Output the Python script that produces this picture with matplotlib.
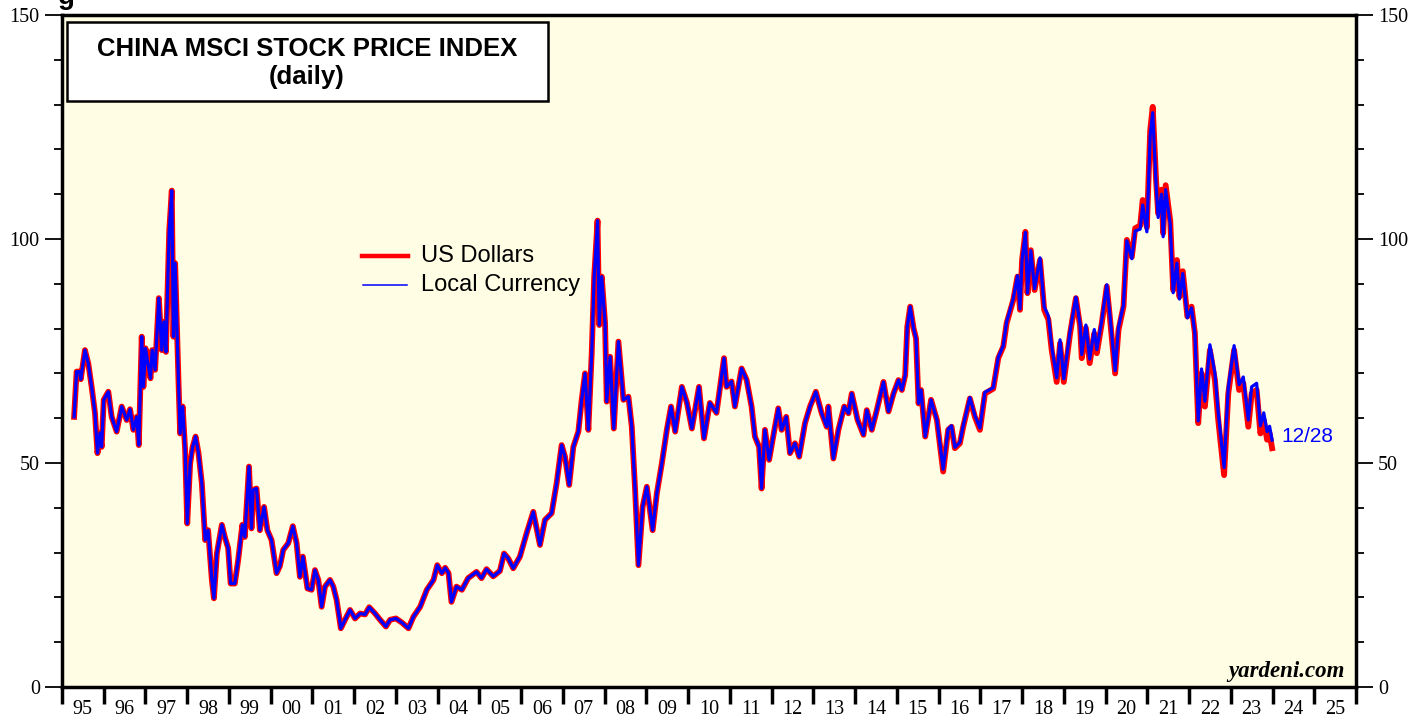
import matplotlib
matplotlib.use("Agg")
import matplotlib.pyplot as plt
from matplotlib.ticker import MultipleLocator, FixedLocator, NullFormatter
from matplotlib.patches import Rectangle
from matplotlib.lines import Line2D

# ---------------- data ----------------
dates = [
    1995.29, 1995.35, 1995.42, 1995.45, 1995.55, 1995.63, 1995.71, 1995.79, 1995.85, 1995.91,
    1995.95, 1996.00, 1996.11, 1996.19, 1996.31, 1996.43, 1996.55, 1996.63, 1996.71, 1996.79,
    1996.84, 1996.91, 1996.95, 1997.00, 1997.07, 1997.12, 1997.16, 1997.23, 1997.32, 1997.39,
    1997.44, 1997.49, 1997.52, 1997.57, 1997.63, 1997.67, 1997.71, 1997.75, 1997.79, 1997.83,
    1997.89, 1997.95, 1998.00, 1998.07, 1998.13, 1998.20, 1998.27, 1998.35, 1998.43, 1998.50,
    1998.59, 1998.64, 1998.71, 1998.83, 1998.90, 1998.98, 1999.04, 1999.14, 1999.22, 1999.32,
    1999.38, 1999.48, 1999.54, 1999.58, 1999.66, 1999.74, 1999.84, 1999.92, 2000.02, 2000.14,
    2000.22, 2000.30, 2000.42, 2000.53, 2000.62, 2000.70, 2000.77, 2000.88, 2000.98, 2001.06,
    2001.14, 2001.22, 2001.30, 2001.42, 2001.50, 2001.58, 2001.68, 2001.78, 2001.90, 2002.02,
    2002.14, 2002.26, 2002.36, 2002.50, 2002.62, 2002.76, 2002.86, 2003.00, 2003.14, 2003.30,
    2003.42, 2003.58, 2003.74, 2003.90, 2003.99, 2004.10, 2004.18, 2004.26, 2004.33, 2004.45,
    2004.58, 2004.73, 2004.93, 2005.05, 2005.17, 2005.33, 2005.49, 2005.59, 2005.69, 2005.81,
    2005.97, 2006.13, 2006.29, 2006.45, 2006.57, 2006.73, 2006.85, 2006.97, 2007.05, 2007.15,
    2007.25, 2007.37, 2007.45, 2007.53, 2007.61, 2007.69, 2007.75, 2007.83, 2007.87, 2007.93,
    2008.01, 2008.05, 2008.13, 2008.22, 2008.33, 2008.45, 2008.57, 2008.65, 2008.73, 2008.81,
    2008.91, 2009.01, 2009.15, 2009.25, 2009.37, 2009.49, 2009.59, 2009.69, 2009.85, 2009.97,
    2010.09, 2010.26, 2010.38, 2010.52, 2010.68, 2010.80, 2010.86, 2010.92, 2011.04, 2011.12,
    2011.28, 2011.40, 2011.52, 2011.60, 2011.70, 2011.76, 2011.84, 2011.94, 2012.04, 2012.16,
    2012.24, 2012.35, 2012.44, 2012.56, 2012.66, 2012.80, 2012.92, 2013.06, 2013.20, 2013.32,
    2013.36, 2013.48, 2013.60, 2013.74, 2013.84, 2013.92, 2014.06, 2014.20, 2014.28, 2014.40,
    2014.52, 2014.68, 2014.80, 2014.92, 2015.04, 2015.12, 2015.20, 2015.25, 2015.32, 2015.40,
    2015.46, 2015.52, 2015.58, 2015.68, 2015.82, 2015.96, 2016.11, 2016.23, 2016.31, 2016.39,
    2016.51, 2016.59, 2016.75, 2016.87, 2016.99, 2017.11, 2017.31, 2017.43, 2017.55, 2017.63,
    2017.79, 2017.89, 2017.95, 2018.00, 2018.08, 2018.13, 2018.21, 2018.30, 2018.43, 2018.53,
    2018.63, 2018.71, 2018.83, 2018.91, 2019.00, 2019.15, 2019.29, 2019.39, 2019.43, 2019.53,
    2019.62, 2019.73, 2019.79, 2019.91, 2020.03, 2020.11, 2020.23, 2020.31, 2020.43, 2020.51,
    2020.63, 2020.71, 2020.83, 2020.89, 2020.99, 2021.07, 2021.13, 2021.21, 2021.26, 2021.34,
    2021.38, 2021.44, 2021.55, 2021.62, 2021.71, 2021.77, 2021.85, 2021.96, 2022.06, 2022.14,
    2022.22, 2022.30, 2022.38, 2022.50, 2022.62, 2022.70, 2022.84, 2022.94, 2023.08, 2023.20,
    2023.30, 2023.42, 2023.50, 2023.62, 2023.71, 2023.79, 2023.87, 2023.93, 2023.99,
]

usd = [
    60.3, 70.4, 70.4, 68.7, 75.2, 72.2, 67.0, 61.2, 52.2, 56.7,
    53.6, 64.1, 65.9, 60.3, 57.0, 62.6, 59.6, 62.0, 57.4, 60.3,
    54.0, 78.2, 67.0, 75.6, 71.5, 68.9, 75.2, 70.8, 86.8, 75.2,
    81.5, 74.8, 85.6, 102.0, 110.8, 78.2, 94.6, 81.2, 68.5, 56.6,
    62.6, 52.9, 36.5, 49.9, 53.6, 55.9, 52.2, 45.5, 32.8, 35.0,
    23.9, 19.8, 29.8, 36.2, 33.5, 31.0, 23.1, 23.1, 28.3, 36.2,
    33.5, 49.2, 35.4, 44.0, 44.3, 35.0, 40.2, 35.0, 32.8, 25.4,
    27.0, 30.6, 32.1, 35.9, 32.1, 24.6, 29.1, 22.0, 21.7, 26.1,
    23.9, 17.9, 22.4, 23.9, 22.4, 19.4, 13.1, 15.0, 17.2, 15.3,
    16.4, 16.2, 17.8, 16.4, 15.0, 13.5, 15.0, 15.3, 14.4, 13.1,
    15.7, 17.9, 21.7, 23.9, 27.2, 25.4, 26.6, 25.4, 19.0, 22.4,
    21.7, 24.3, 25.7, 24.3, 26.3, 24.7, 25.9, 29.8, 28.7, 26.5,
    29.1, 34.3, 39.1, 31.7, 37.3, 38.8, 45.5, 54.0, 51.4, 45.1,
    53.6, 57.0, 64.1, 70.0, 57.4, 74.5, 91.6, 104.1, 80.8, 91.6,
    81.2, 63.7, 73.7, 57.7, 77.1, 64.1, 64.8, 58.1, 44.0, 27.2,
    40.2, 44.7, 35.0, 43.2, 49.9, 57.4, 62.6, 57.0, 67.0, 63.5,
    57.7, 67.0, 55.5, 63.4, 61.2, 69.3, 73.4, 67.0, 68.2, 62.6,
    71.1, 68.6, 62.6, 55.9, 53.6, 44.3, 57.4, 50.7, 56.0, 62.2,
    57.4, 60.3, 52.2, 54.4, 51.4, 58.9, 62.6, 65.9, 61.1, 58.1,
    62.6, 51.0, 57.4, 62.6, 61.1, 65.5, 59.6, 56.3, 61.8, 57.4,
    61.8, 68.1, 61.5, 65.5, 68.5, 66.3, 69.6, 80.4, 84.9, 80.1,
    77.8, 63.3, 66.3, 55.9, 64.1, 59.6, 48.1, 57.4, 58.1, 53.3,
    54.4, 58.1, 64.4, 60.3, 57.4, 65.5, 66.6, 73.4, 76.0, 81.2,
    86.4, 91.6, 84.2, 95.3, 101.6, 87.9, 97.5, 88.6, 95.3, 84.2,
    82.0, 75.2, 68.1, 76.7, 68.1, 78.9, 86.8, 80.5, 73.4, 80.1,
    72.3, 78.9, 74.5, 81.2, 89.4, 81.9, 70.0, 79.7, 84.9, 99.8,
    96.0, 102.4, 103.0, 108.7, 102.6, 124.3, 129.5, 113.2, 105.7, 111.0,
    101.3, 112.0, 104.0, 88.6, 95.3, 87.1, 92.8, 82.7, 84.9, 79.0,
    58.9, 70.0, 62.6, 75.2, 68.5, 59.6, 47.3, 65.5, 75.2, 66.3,
    67.8, 58.1, 65.5, 66.3, 56.6, 59.6, 55.2, 56.6, 53.3,
]

local = [
    60.3, 70.4, 70.4, 68.7, 75.2, 72.2, 67.0, 61.2, 52.2, 56.7,
    53.6, 64.1, 65.9, 60.3, 57.0, 62.6, 59.6, 62.0, 57.4, 60.3,
    54.0, 78.2, 67.0, 75.6, 71.5, 68.9, 75.2, 70.8, 86.8, 75.2,
    81.5, 74.8, 85.6, 102.0, 110.8, 78.2, 94.6, 81.2, 68.5, 56.6,
    62.6, 52.9, 36.5, 49.9, 53.6, 55.9, 52.2, 45.5, 32.8, 35.0,
    23.9, 19.8, 29.8, 36.2, 33.5, 31.0, 23.1, 23.1, 28.3, 36.2,
    33.5, 49.2, 35.4, 44.0, 44.3, 35.0, 40.2, 35.0, 32.8, 25.4,
    27.0, 30.6, 32.1, 35.9, 32.1, 24.6, 29.1, 22.0, 21.7, 26.1,
    23.9, 17.9, 22.4, 23.9, 22.4, 19.4, 13.1, 15.0, 17.2, 15.3,
    16.4, 16.2, 17.8, 16.4, 15.0, 13.5, 15.0, 15.3, 14.4, 13.1,
    15.7, 17.9, 21.7, 23.9, 27.2, 25.4, 26.6, 25.4, 19.0, 22.4,
    21.7, 24.3, 25.7, 24.3, 26.3, 24.7, 25.9, 29.8, 28.7, 26.5,
    29.1, 34.3, 39.1, 31.7, 37.3, 38.8, 45.5, 54.0, 51.4, 45.1,
    53.6, 57.0, 64.1, 70.0, 57.4, 74.5, 91.6, 104.1, 80.8, 91.6,
    81.2, 63.7, 73.7, 57.7, 77.1, 64.1, 64.8, 58.1, 44.0, 27.2,
    40.2, 44.7, 35.0, 43.2, 49.9, 57.4, 62.6, 57.0, 67.0, 63.5,
    57.7, 67.0, 55.5, 63.4, 61.2, 69.3, 73.4, 67.0, 68.2, 62.6,
    71.1, 68.6, 62.6, 55.9, 53.6, 44.3, 57.4, 50.7, 56.0, 62.2,
    57.4, 60.3, 52.2, 54.4, 51.4, 58.9, 62.6, 65.9, 61.1, 58.1,
    62.6, 51.0, 57.4, 62.6, 61.1, 65.5, 59.6, 56.3, 61.8, 57.4,
    61.8, 68.1, 61.5, 65.5, 68.5, 66.3, 69.6, 80.4, 84.9, 80.1,
    77.8, 63.3, 66.3, 55.9, 64.1, 59.6, 48.6, 57.6, 58.3, 53.5,
    54.6, 58.3, 64.6, 60.6, 57.8, 65.8, 66.8, 73.6, 76.2, 81.5,
    86.7, 91.8, 84.4, 95.4, 101.5, 87.9, 97.4, 88.9, 95.8, 84.9,
    82.8, 76.0, 69.0, 77.5, 68.8, 79.4, 87.0, 80.9, 74.2, 80.8,
    73.2, 79.8, 75.3, 81.8, 89.8, 82.5, 70.6, 80.3, 85.3, 99.6,
    95.6, 101.8, 102.2, 107.6, 101.6, 123.2, 128.2, 112.2, 104.8, 110.0,
    100.5, 111.0, 103.2, 88.0, 94.6, 86.6, 92.3, 82.4, 84.6, 79.0,
    59.4, 71.0, 63.8, 76.4, 70.0, 61.2, 49.0, 66.8, 76.2, 67.5,
    69.2, 59.6, 67.0, 67.8, 58.3, 61.2, 57.0, 58.2, 55.1,
]

year_labels = ["95", "96", "97", "98", "99", "00", "01", "02", "03", "04", "05",
               "06", "07", "08", "09", "10", "11", "12", "13", "14", "15", "16",
               "17", "18", "19", "20", "21", "22", "23", "24", "25"]
first_year = 1995
y_major = [0, 50, 100, 150]

# ---------------- figure ----------------
W, H = 1427, 721
fig = plt.figure(figsize=(W / 100, H / 100), dpi=100, facecolor="white")
L, R, T, B = 62, 1356, 15, 687
ax = fig.add_axes([L / W, 1 - B / H, (R - L) / W, (B - T) / H])
ax.set_facecolor("#FFFEE4")

ax.plot(dates, usd, color="#FF0000", lw=4.2, solid_joinstyle="round", zorder=3)
ax.plot(dates, local, color="#0000FF", lw=2.3, solid_joinstyle="round", zorder=4)

n_years = len(year_labels)
ax.set_xlim(first_year, first_year + n_years)
ax.set_ylim(0, 150)

for s in ax.spines.values():
    s.set_linewidth(2.5)
    s.set_color("black")

serif = "Liberation Serif"
sans = "Liberation Sans"

# x axis: year boundary ticks, labels centred in each year
ax.xaxis.set_major_locator(FixedLocator([first_year + i for i in range(n_years + 1)]))
ax.xaxis.set_major_formatter(NullFormatter())
ax.xaxis.set_minor_locator(FixedLocator([first_year + i + 0.5 for i in range(n_years)]))
ax.set_xticklabels(year_labels, minor=True)
ax.tick_params(axis="x", which="major", direction="out", length=12.5, width=2.5, color="black")
ax.tick_params(axis="x", which="minor", length=0, pad=9)
for lab in ax.get_xticklabels(minor=True):
    lab.set_fontfamily(serif)
    lab.set_fontsize(14.5)

# y axis: both sides
ax.yaxis.set_major_locator(FixedLocator(y_major))
ax.yaxis.set_minor_locator(MultipleLocator(10))
ax.tick_params(axis="y", which="major", direction="out", length=12, width=1.3,
               left=True, right=True, labelleft=True, labelright=True, pad=4)
ax.tick_params(axis="y", which="minor", direction="out", length=6, width=1.3,
               left=True, right=True)
for lab in ax.get_yticklabels():
    lab.set_fontfamily(serif)
    lab.set_fontsize(14.5)

# title box
px = lambda x: (x - L) / (R - L)
py = lambda y: (B - y) / (B - T)
ax.add_patch(Rectangle((px(67), py(101)), px(548) - px(67), py(22) - py(101),
                       transform=ax.transAxes, facecolor="white", edgecolor="black",
                       lw=1.8, zorder=6))
ax.text(px(307), py(49), "CHINA MSCI STOCK PRICE INDEX", transform=ax.transAxes,
        ha="center", va="center", fontsize=18.5, fontweight="bold", family=sans, zorder=7)
ax.text(px(307), py(77), "(daily)", transform=ax.transAxes,
        ha="center", va="center", fontsize=18.5, fontweight="bold", family=sans, zorder=7)

# legend
ax.add_line(Line2D([px(362), px(408)], [py(256), py(256)], transform=ax.transAxes,
                   color="#FF0000", lw=3.2, zorder=7))
ax.add_line(Line2D([px(363), px(407)], [py(285), py(285)], transform=ax.transAxes,
                   color="#0000FF", lw=1.1, zorder=7))
ax.text(px(421), py(256), "US Dollars", transform=ax.transAxes, ha="left", va="center",
        fontsize=17, family=sans, zorder=7)
ax.text(px(421), py(285), "Local Currency", transform=ax.transAxes, ha="left", va="center",
        fontsize=17, family=sans, zorder=7)

# end-date annotation
ax.text(px(1281), py(437), "12/28", transform=ax.transAxes, ha="left", va="center",
        fontsize=15, family=sans, color="#0000FF", zorder=7)

# source
ax.text(px(1345), py(671), "yardeni.com", transform=ax.transAxes, ha="right", va="center",
        fontsize=16.5, family=serif, fontweight="bold", fontstyle="italic", zorder=7)

# cut-off heading fragment at the very top of the page
fig.text(58 / W, 1 - 4 / H, "g", ha="left", va="baseline", fontsize=20,
         fontweight="bold", family=sans)

fig.savefig("out.png", dpi=100, facecolor="white")
